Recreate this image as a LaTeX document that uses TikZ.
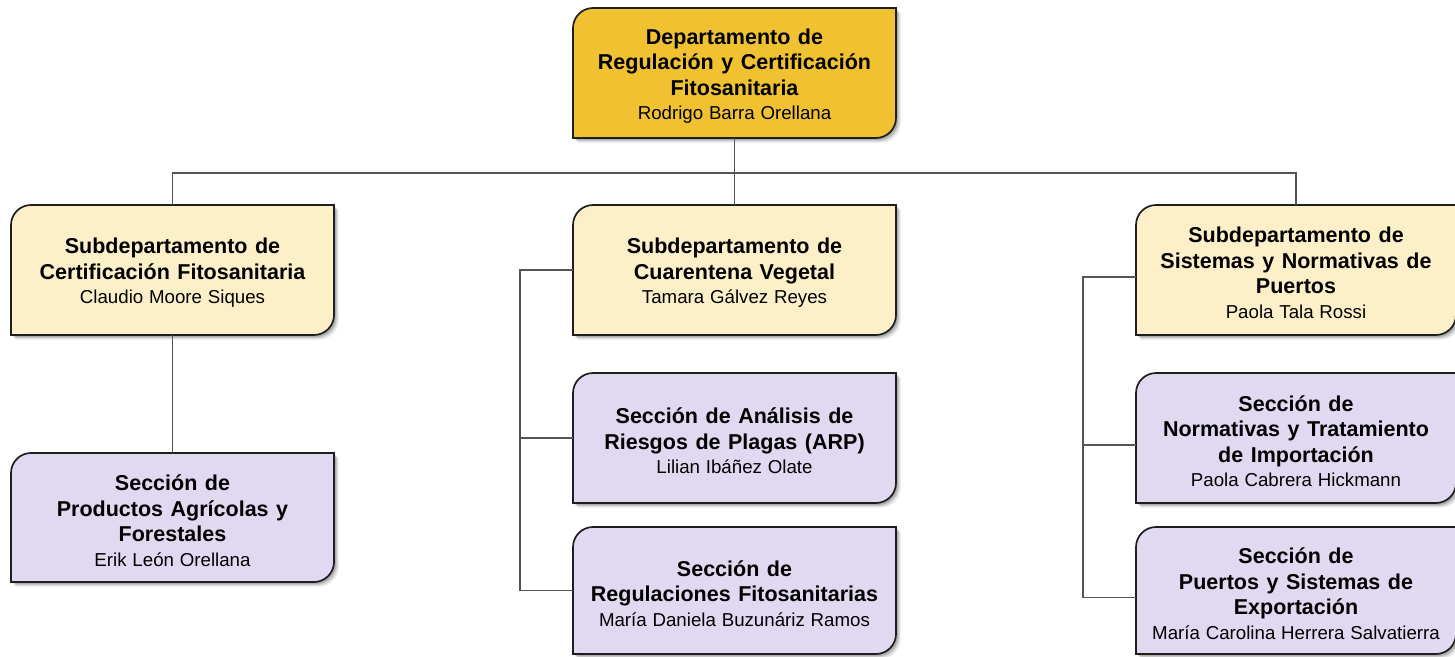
\documentclass[tikz,border=0pt]{standalone}
\usepackage{fontspec}
\setmainfont{Liberation Sans}
\definecolor{gold}{HTML}{F0C232}
\definecolor{cream}{HTML}{FDF0C9}
\definecolor{lav}{HTML}{E1D9F1}
\definecolor{boxline}{HTML}{1E1E1E}
\definecolor{wire}{HTML}{555555}
\newcommand\ttl[1]{{\bfseries\fontsize{21.5}{25.5}\selectfont\spaceskip=0.35em\relax #1\par}}
\newcommand\who[1]{{\fontsize{18.7}{24.5}\selectfont\spaceskip=0.31em\relax #1\par}}
% x1 y1 x2 y2 style
\newcommand\shapepath[5]{%
  \pgfmathsetmacro\myya{#2+20}\pgfmathsetmacro\myyb{#2+9}%
  \pgfmathsetmacro\myxa{#1+9}\pgfmathsetmacro\myxb{#1+20}%
  \pgfmathsetmacro\myyc{#4-20}\pgfmathsetmacro\myyd{#4-9}%
  \pgfmathsetmacro\myxc{#3-9}\pgfmathsetmacro\myxd{#3-20}%
  \path[#5] (#1,#4) -- (#1,\myya) .. controls (#1,\myyb) and (\myxa,#2) .. (\myxb,#2) -- (#3,#2) -- (#3,\myyc) .. controls (#3,\myyd) and (\myxc,#4) .. (\myxd,#4) -- cycle;}
% name x1 y1 x2 y2 fill text
\newcommand\orgbox[7]{%
  \begin{scope}[shift={(5,5)}]\shapepath{#2}{#3}{#4}{#5}{fill=black,opacity=0.05}\end{scope}%
  \begin{scope}[shift={(4,4)}]\shapepath{#2}{#3}{#4}{#5}{fill=black,opacity=0.07}\end{scope}%
  \begin{scope}[shift={(3,3)}]\shapepath{#2}{#3}{#4}{#5}{fill=black,opacity=0.10}\end{scope}%
  \begin{scope}[shift={(2,2)}]\shapepath{#2}{#3}{#4}{#5}{fill=black,opacity=0.14}\end{scope}%
  \shapepath{#2}{#3}{#4}{#5}{fill=#6,draw=boxline,line width=1.7pt}%
  \pgfmathsetmacro\mycx{(#2+#4)/2}\pgfmathsetmacro\mycy{(#3+#5)/2}%
  \pgfmathsetmacro\mycyt{(#3+#5)/2+3}%
  \pgfmathsetmacro\myw{#4-#2}\pgfmathsetmacro\myh{#5-#3}%
  \node[inner sep=0pt,minimum width=\myw pt,minimum height=\myh pt] (#1) at (\mycx,\mycy) {};%
  \node[boxtext] at (\mycx,\mycyt) {#7};%
}
\begin{document}
\begin{tikzpicture}[x=1pt,y=-1pt,
  boxtext/.style={inner sep=0pt,align=center,text width=312pt,text=black},
  conn/.style={draw=wire,line width=1.6pt}]
\useasboundingbox (0,0) rectangle (1455,656);
\begin{scope}
\clip (0,0) rectangle (1455,656);
\orgbox{top}{573}{8}{896}{138}{gold}{\ttl{Departamento de\\Regulación y Certificación\\Fitosanitaria}\who{Rodrigo Barra Orellana}}
\orgbox{s1}{11}{205}{334}{335}{cream}{\ttl{Subdepartamento de\\Certificación Fitosanitaria}\who{Claudio Moore Siques}}
\orgbox{s2}{573}{205}{896}{335}{cream}{\ttl{Subdepartamento de\\Cuarentena Vegetal}\who{Tamara Gálvez Reyes}}
\orgbox{s3}{1136}{205}{1456}{335}{cream}{\ttl{Subdepartamento de\\Sistemas y Normativas de\\Puertos}\who{Paola Tala Rossi}}
\orgbox{l1}{11}{453}{334}{582}{lav}{\ttl{Sección de\\Productos Agrícolas y\\Forestales}\who{Erik León Orellana}}
\orgbox{m1}{573}{373}{896}{503}{lav}{\ttl{Sección de Análisis de\\Riesgos de Plagas (ARP)}\who{Lilian Ibáñez Olate}}
\orgbox{m2}{573}{527}{896}{654}{lav}{\ttl{Sección de\\Regulaciones Fitosanitarias}\who{María Daniela Buzunáriz Ramos}}
\orgbox{r1}{1136}{373}{1456}{503}{lav}{\ttl{Sección de\\Normativas y Tratamiento\\de Importación}\who{Paola Cabrera Hickmann}}
\orgbox{r2}{1136}{527}{1456}{654}{lav}{\ttl{Sección de\\Puertos y Sistemas de\\Exportación}\who{María Carolina Herrera Salvatierra}}
\coordinate (bus) at ([yshift=-35pt]top.south);
\draw[conn] (top.south) -- (bus);
\draw[conn] (s1.north) |- (bus) -| (s3.north);
\draw[conn] (bus) -- (s2.north);
\draw[conn] (s1.south) -- (l1.north);
\draw[conn] (s2.west) -- ++(-53,0) |- (m2.west);
\draw[conn] (m1.west) -- ++(-53,0);
\draw[conn] ([yshift=-7pt]s3.west) -- ++(-53,0) |- ([yshift=-7pt]r2.west);
\draw[conn] ([yshift=-7pt]r1.west) -- ++(-53,0);
\end{scope}
\end{tikzpicture}
\end{document}
